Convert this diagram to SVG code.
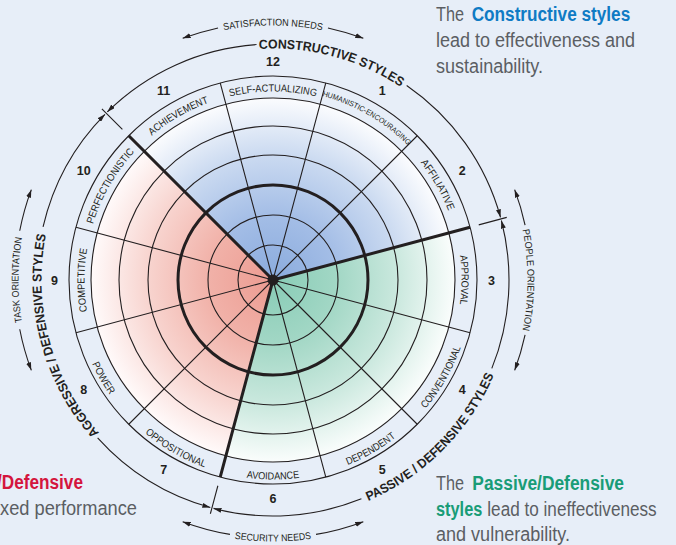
<svg xmlns="http://www.w3.org/2000/svg" width="676" height="545" viewBox="0 0 676 545">
<defs>
<style>
.ln{fill:none;stroke:#231f20;stroke-width:1.1}
.thk{fill:none;stroke:#231f20;stroke-width:3}
.lbl{font-family:"Liberation Sans",Arial,sans-serif;font-size:10.3px;fill:#231f20}
.sm{font-size:7.6px}
.num{font-family:"Liberation Sans",Arial,sans-serif;font-size:12.5px;font-weight:bold;fill:#231f20;text-anchor:middle}
.grp{font-family:"Liberation Sans",Arial,sans-serif;font-size:13px;font-weight:bold;fill:#231f20}
.out{font-family:"Liberation Sans",Arial,sans-serif;font-size:9.8px;fill:#231f20}
.leg{font-family:"Liberation Sans",Arial,sans-serif;font-size:20px;fill:#5b5e63}
.b{font-weight:bold}
.arc{fill:none;stroke:#231f20;stroke-width:1.1}
</style>
<radialGradient id="gBlue" gradientUnits="userSpaceOnUse" cx="273" cy="280" r="182">
<stop offset="0" stop-color="#8aabdd"/><stop offset="0.35" stop-color="#a3bde6"/><stop offset="0.7" stop-color="#ccdbf1"/><stop offset="1" stop-color="#fbfcfe"/>
</radialGradient>
<radialGradient id="gRed" gradientUnits="userSpaceOnUse" cx="273" cy="280" r="182">
<stop offset="0" stop-color="#ec9b91"/><stop offset="0.35" stop-color="#f1b1a8"/><stop offset="0.7" stop-color="#f8d5d0"/><stop offset="1" stop-color="#fffafa"/>
</radialGradient>
<radialGradient id="gGreen" gradientUnits="userSpaceOnUse" cx="273" cy="280" r="182">
<stop offset="0" stop-color="#88ccb6"/><stop offset="0.35" stop-color="#a2d7c5"/><stop offset="0.7" stop-color="#cce9df"/><stop offset="1" stop-color="#fafdfc"/>
</radialGradient>
<marker id="ah" viewBox="0 0 8 5" refX="8" refY="2.5" markerWidth="8" markerHeight="5" markerUnits="userSpaceOnUse" orient="auto-start-reverse">
<path d="M0,0 L8,2.5 L0,5 Z" fill="#231f20"/>
</marker>
<path id="cwL" d="M151.83,135.6 A188.5,188.5 0 0 1 394.17,135.6"/>
<path id="cwS" d="M150.55,134.07 A190.5,190.5 0 0 1 395.45,134.07"/>
<path id="ccwL" d="M144.76,432.83 A199.5,199.5 0 0 0 401.24,432.83"/>
<path id="cwBig" d="M72.52,164.25 A231.5,231.5 0 0 1 473.48,164.25"/>
<path id="ccwBig" d="M64.72,400.25 A240.5,240.5 0 0 0 481.28,400.25"/>
<path id="cwOut" d="M52.6,152.75 A254.5,254.5 0 0 1 493.4,152.75"/>
<path id="ccwOut" d="M46.54,410.75 A261.5,261.5 0 0 0 499.46,410.75"/>
</defs>

<rect width="676" height="545" fill="#e7eef8"/>

<g id="sector-constructive"><path d="M273,280 L144.3,151.3 A182,182 0 0 1 448.8,232.9 Z" fill="url(#gBlue)"/></g>
<g id="sector-passive"><path d="M273,280 L448.8,232.9 A182,182 0 0 1 225.9,455.8 Z" fill="url(#gGreen)"/></g>
<g id="sector-aggressive"><path d="M273,280 L225.9,455.8 A182,182 0 0 1 144.3,151.3 Z" fill="url(#gRed)"/></g>

<g id="grid">
<circle class="ln" cx="273" cy="280" r="35"/>
<circle class="ln" cx="273" cy="280" r="65"/>
<circle class="ln" cx="273" cy="280" r="125"/>
<circle class="ln" cx="273" cy="280" r="154"/>
<circle class="ln" cx="273" cy="280" r="182"/>
<circle class="ln" cx="273" cy="280" r="204"/>
<path class="ln" d="M273,280 L325.8,82.95 M273,280 L417.25,135.75 M273,280 L470.05,332.8 M273,280 L417.25,424.25 M273,280 L325.8,477.05 M273,280 L128.75,424.25 M273,280 L75.95,332.8 M273,280 L75.95,227.2 M273,280 L220.2,82.95"/>
<circle class="thk" cx="273" cy="280" r="95"/>
<path class="thk" d="M273,280 L470.05,227.2 M273,280 L220.2,477.05 M273,280 L128.75,135.75"/>
<circle cx="273" cy="280" r="5.5" fill="#231f20"/>
</g>

<g id="labels">
<text class="lbl" text-anchor="middle"><textPath href="#cwL" startOffset="50%" textLength="87" lengthAdjust="spacingAndGlyphs">SELF-ACTUALIZING</textPath></text>
<text class="lbl sm" text-anchor="middle" transform="rotate(30 273 280)"><textPath href="#cwS" startOffset="50%" textLength="100" lengthAdjust="spacingAndGlyphs">HUMANISTIC-ENCOURAGING</textPath></text>
<text class="lbl" text-anchor="middle" transform="rotate(60 273 280)"><textPath href="#cwL" startOffset="50%" textLength="56" lengthAdjust="spacingAndGlyphs">AFFILIATIVE</textPath></text>
<text class="lbl" text-anchor="middle" transform="rotate(90 273 280)"><textPath href="#cwL" startOffset="50%" textLength="49" lengthAdjust="spacingAndGlyphs">APPROVAL</textPath></text>
<text class="lbl" text-anchor="middle" transform="rotate(-60 273 280)"><textPath href="#ccwL" startOffset="50%" textLength="71" lengthAdjust="spacingAndGlyphs">CONVENTIONAL</textPath></text>
<text class="lbl" text-anchor="middle" transform="rotate(-30 273 280)"><textPath href="#ccwL" startOffset="50%" textLength="55.5" lengthAdjust="spacingAndGlyphs">DEPENDENT</textPath></text>
<text class="lbl" text-anchor="middle"><textPath href="#ccwL" startOffset="50%" textLength="53" lengthAdjust="spacingAndGlyphs">AVOIDANCE</textPath></text>
<text class="lbl" text-anchor="middle" transform="rotate(30 273 280)"><textPath href="#ccwL" startOffset="50%" textLength="69" lengthAdjust="spacingAndGlyphs">OPPOSITIONAL</textPath></text>
<text class="lbl" text-anchor="middle" transform="rotate(60 273 280)"><textPath href="#ccwL" startOffset="50%" textLength="36" lengthAdjust="spacingAndGlyphs">POWER</textPath></text>
<text class="lbl" text-anchor="middle" transform="rotate(-90 273 280)"><textPath href="#cwL" startOffset="50%" textLength="63" lengthAdjust="spacingAndGlyphs">COMPETITIVE</textPath></text>
<text class="lbl" text-anchor="middle" transform="rotate(-60 273 280)"><textPath href="#cwL" startOffset="50%" textLength="84" lengthAdjust="spacingAndGlyphs">PERFECTIONISTIC</textPath></text>
<text class="lbl" text-anchor="middle" transform="rotate(-30 273 280)"><textPath href="#cwL" startOffset="50%" textLength="66" lengthAdjust="spacingAndGlyphs">ACHIEVEMENT</textPath></text>
</g>

<g id="numbers">
<text class="num" x="273" y="66">12</text>
<text class="num" x="382.3" y="95.3">1</text>
<text class="num" x="462.2" y="175.2">2</text>
<text class="num" x="491.5" y="284.5">3</text>
<text class="num" x="462.2" y="393.7">4</text>
<text class="num" x="382.3" y="473.7">5</text>
<text class="num" x="273" y="503">6</text>
<text class="num" x="163.7" y="473.7">7</text>
<text class="num" x="83.8" y="393.7">8</text>
<text class="num" x="54.5" y="284.5">9</text>
<text class="num" x="83.8" y="175.2">10</text>
<text class="num" x="163.7" y="95.3">11</text>
</g>

<g id="connectors">
<path class="ln" d="M478.74,224.87 L506.75,217.37 M122.39,129.39 L101.88,108.88 M217.87,485.74 L210.37,513.75"/>
<path class="arc" d="M107.29,111.96 A236,236 0 0 1 256.54,44.57" marker-start="url(#ah)"/>
<path class="arc" d="M406.67,85.51 A236,236 0 0 1 500.53,217.33" marker-end="url(#ah)"/>
<path class="arc" d="M501.38,220.51 A236,236 0 0 1 491.81,368.41" marker-start="url(#ah)"/>
<path class="arc" d="M361.41,498.81 A236,236 0 0 1 213.51,508.38" marker-end="url(#ah)"/>
<path class="arc" d="M210.33,507.53 A236,236 0 0 1 97.62,437.91" marker-start="url(#ah)"/>
<path class="arc" d="M43.05,226.91 A236,236 0 0 1 104.96,114.29" marker-end="url(#ah)"/>
<g>
<path class="arc" d="M182.65,38.34 A258,258 0 0 1 218.04,27.92" marker-start="url(#ah)"/>
<path class="arc" d="M327.96,27.92 A258,258 0 0 1 363.35,38.34" marker-end="url(#ah)"/>
</g>
<g transform="rotate(90 273 280)">
<path class="arc" d="M182.65,38.34 A258,258 0 0 1 218.04,27.92" marker-start="url(#ah)"/>
<path class="arc" d="M327.96,27.92 A258,258 0 0 1 363.35,38.34" marker-end="url(#ah)"/>
</g>
<g transform="rotate(270 273 280)">
<path class="arc" d="M182.65,38.34 A258,258 0 0 1 223.77,26.74" marker-start="url(#ah)"/>
<path class="arc" d="M322.23,26.74 A258,258 0 0 1 363.35,38.34" marker-end="url(#ah)"/>
</g>
<g transform="rotate(180 273 280)">
<path class="arc" d="M182.65,38.34 A258,258 0 0 1 229.97,25.61" marker-start="url(#ah)"/>
<path class="arc" d="M316.03,25.61 A258,258 0 0 1 363.35,38.34" marker-end="url(#ah)"/>
</g>
</g>

<g id="group-titles">
<text class="grp" text-anchor="middle" transform="rotate(15 273 280)"><textPath href="#cwBig" startOffset="50%" textLength="149" lengthAdjust="spacingAndGlyphs">CONSTRUCTIVE STYLES</textPath></text>
<text class="grp" text-anchor="middle" transform="rotate(-45 273 280)"><textPath href="#ccwBig" startOffset="50%" textLength="182" lengthAdjust="spacingAndGlyphs">PASSIVE / DEFENSIVE STYLES</textPath></text>
<text class="grp" text-anchor="middle" transform="rotate(255 273 280)"><textPath href="#cwBig" startOffset="50%" textLength="213" lengthAdjust="spacingAndGlyphs">AGGRESSIVE / DEFENSIVE STYLES</textPath></text>
<text class="out" text-anchor="middle"><textPath href="#cwOut" startOffset="50%" textLength="99" lengthAdjust="spacingAndGlyphs">SATISFACTION NEEDS</textPath></text>
<text class="out" text-anchor="middle" transform="rotate(90 273 280)"><textPath href="#cwOut" startOffset="50%" textLength="101" lengthAdjust="spacingAndGlyphs">PEOPLE ORIENTATION</textPath></text>
<text class="out" text-anchor="middle" transform="rotate(270 273 280)"><textPath href="#cwOut" startOffset="50%" textLength="85" lengthAdjust="spacingAndGlyphs">TASK ORIENTATION</textPath></text>
<text class="out" text-anchor="middle"><textPath href="#ccwOut" startOffset="50%" textLength="77" lengthAdjust="spacingAndGlyphs">SECURITY NEEDS</textPath></text>
</g>

<g id="legend-constructive">
<text class="leg" x="436" y="21" textLength="28" lengthAdjust="spacingAndGlyphs">The</text>
<text class="leg b" x="471.7" y="21" style="fill:#0f7bc4" textLength="158.5" lengthAdjust="spacingAndGlyphs">Constructive styles</text>
<text class="leg" x="436" y="47" textLength="199" lengthAdjust="spacingAndGlyphs">lead to effectiveness and</text>
<text class="leg" x="436" y="72.5" textLength="107" lengthAdjust="spacingAndGlyphs">sustainability.</text>
</g>
<g id="legend-passive">
<text class="leg" x="436" y="490" textLength="28" lengthAdjust="spacingAndGlyphs">The</text>
<text class="leg b" x="472.3" y="490" style="fill:#199c77" textLength="151.7" lengthAdjust="spacingAndGlyphs">Passive/Defensive</text>
<text class="leg b" x="436" y="515.5" style="fill:#199c77" textLength="46.3" lengthAdjust="spacingAndGlyphs">styles</text>
<text class="leg" x="487.3" y="515.5" textLength="169.4" lengthAdjust="spacingAndGlyphs">lead to ineffectiveness</text>
<text class="leg" x="436" y="541" textLength="134" lengthAdjust="spacingAndGlyphs">and vulnerability.</text>
</g>
<g id="legend-aggressive">
<text class="leg b" x="-3" y="489" style="fill:#d4153d" textLength="86" lengthAdjust="spacingAndGlyphs">/Defensive</text>
<text class="leg" x="0" y="515" textLength="137" lengthAdjust="spacingAndGlyphs">xed performance</text>
</g>
</svg>
